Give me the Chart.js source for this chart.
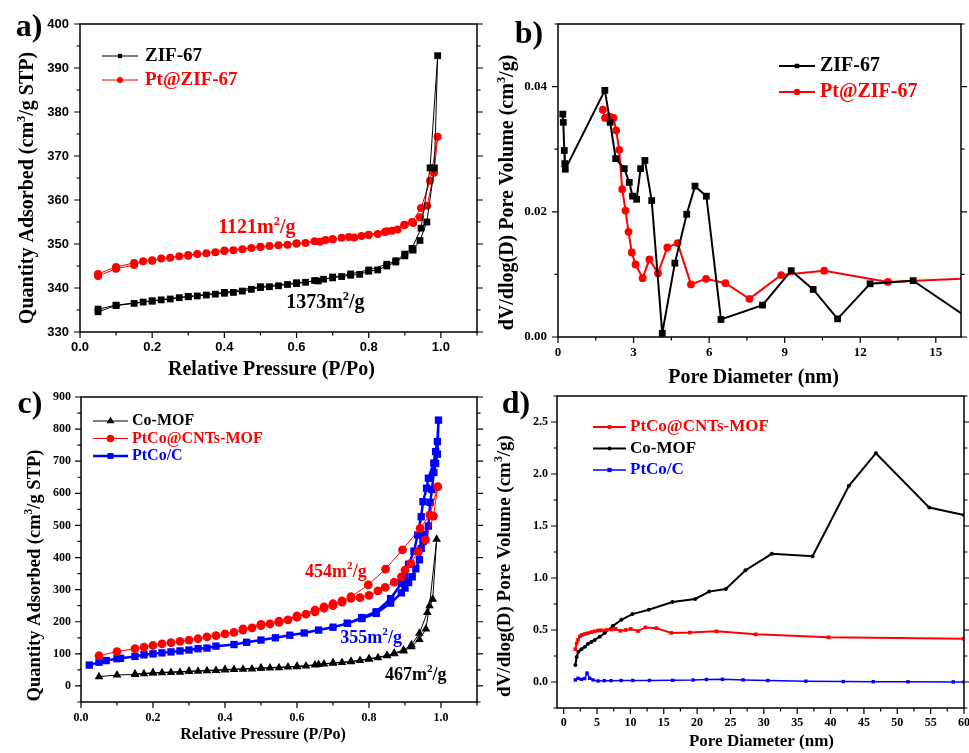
<!DOCTYPE html>
<html>
<head>
<meta charset="utf-8">
<title>Nitrogen sorption isotherms and pore size distributions</title>
<script src="https://cdn.jsdelivr.net/npm/chart.js@4.4.1/dist/chart.umd.min.js"></script>
<style>
  html, body { margin: 0; padding: 0; background: #fff; }
  body { width: 969px; height: 753px; position: relative; overflow: hidden; }
  canvas { position: absolute; }
</style>
</head>
<body>
<canvas id="panelA" width="484" height="388" style="left:0;top:0"></canvas>
<canvas id="panelB" width="485" height="388" style="left:484px;top:0"></canvas>
<canvas id="panelC" width="484" height="365" style="left:0;top:388px"></canvas>
<canvas id="panelD" width="485" height="365" style="left:484px;top:388px"></canvas>
<script>
// ---------- (a) N2 isotherms: ZIF-67 and Pt@ZIF-67 ----------
const zifAdsP = [0.05,0.1,0.15,0.175,0.2,0.225,0.25,0.275,0.3,0.325,0.35,0.375,0.4,0.425,0.45,0.475,0.5,0.525,0.55,0.575,0.6,0.625,0.65,0.675,0.7,0.725,0.75,0.775,0.8,0.825,0.85,0.875,0.9,0.923,0.942,0.961,0.982,0.991];
const zifAdsQ = [334.6,336.0,336.5,336.8,337.0,337.3,337.5,337.8,338.0,338.2,338.4,338.6,338.8,339.0,339.3,339.7,340.1,340.3,340.5,340.8,341.0,341.3,341.7,342.0,342.3,342.6,342.9,343.1,343.8,344.1,345.0,345.9,347.3,348.6,350.8,355.0,367.3,392.8];
const zifDesP = [0.970,0.945,0.92,0.9,0.875,0.85,0.8,0.75,0.7,0.66,0.6,0.5,0.4,0.3,0.2,0.1,0.05];
const zifDesQ = [367.3,353.6,349.0,347.7,346.2,345.4,344.1,343.2,342.5,341.6,341.2,340.3,339.0,338.1,337.1,336.1,335.2];

const ptZifAdsP = [0.05,0.1,0.15,0.175,0.2,0.225,0.25,0.275,0.3,0.325,0.35,0.375,0.4,0.425,0.45,0.475,0.5,0.525,0.55,0.575,0.6,0.625,0.65,0.665,0.68,0.7,0.725,0.745,0.76,0.78,0.8,0.825,0.845,0.865,0.88,0.898,0.923,0.942,0.962,0.981,0.991];
const ptZifAdsQ = [342.7,344.4,345.2,346.1,346.2,346.7,346.9,347.2,347.35,347.7,347.9,348.1,348.4,348.6,348.8,349.1,349.3,349.55,349.7,349.85,350.1,350.2,350.6,350.5,350.9,351.1,351.4,351.6,351.5,351.8,352.05,352.3,352.7,353.0,353.3,354.3,354.8,356.1,358.7,366.2,374.4];
const ptZifDesP = [0.970,0.945,0.92,0.9,0.85,0.8,0.7,0.6,0.5,0.4,0.3,0.2,0.15,0.1,0.05];
const ptZifDesQ = [364.4,358.2,355.0,354.4,352.9,352.1,351.1,350.1,349.4,348.5,347.5,346.3,345.7,344.8,343.2];

// ---------- (b) pore size distribution: ZIF-67 and Pt@ZIF-67 ----------
const zifPoreD = [0.19,0.21,0.25,0.27,0.29,1.86,2.07,2.29,2.63,2.83,2.96,3.12,3.28,3.45,3.72,4.14,4.64,5.11,5.44,5.89,6.47,8.12,9.26,10.13,11.10,12.39,14.10,16.0];
const zifPoreV = [0.0356,0.0343,0.0298,0.0277,0.0268,0.0394,0.0343,0.0285,0.0269,0.0247,0.0225,0.0220,0.0269,0.0282,0.0218,0.0006,0.0118,0.0196,0.0241,0.0225,0.0028,0.0051,0.0106,0.0076,0.0029,0.0085,0.0090,0.0038];
const ptZifPoreD = [1.78,1.87,2.04,2.20,2.31,2.43,2.55,2.68,2.80,2.93,3.08,3.36,3.63,3.97,4.34,4.75,5.28,5.88,6.65,7.60,8.86,10.57,13.10,16.0];
const ptZifPoreV = [0.0363,0.0350,0.0352,0.0350,0.0330,0.0299,0.0236,0.0202,0.0168,0.0135,0.0116,0.0094,0.0124,0.0102,0.0143,0.0150,0.0084,0.0093,0.0086,0.0061,0.0099,0.0106,0.0088,0.0093];

// ---------- (c) N2 isotherms: Co-MOF, PtCo@CNTs-MOF, PtCo/C ----------
const coAdsP = [0.05,0.1,0.15,0.175,0.2,0.225,0.25,0.275,0.3,0.325,0.35,0.375,0.4,0.425,0.45,0.475,0.5,0.525,0.55,0.575,0.6,0.625,0.65,0.675,0.7,0.725,0.75,0.775,0.8,0.825,0.85,0.87,0.896,0.918,0.94,0.958,0.968,0.988];
const coAdsQ = [29,34,36,38,40,41,42,43,45,46,47,48,50,51,52,53,55,56,57,59,60,62,65,68,71,73,75,79,83,88,94,100,109,122,145,177,250,457];
const coDesP = [0.977,0.962,0.94,0.918,0.896,0.87,0.85,0.8,0.75,0.7,0.66,0.6,0.5,0.4,0.3,0.2,0.15];
const coDesQ = [270,229,164,128,112,102,95,85,76,72,67,61,56,51,46,41,37];

const cntAdsP = [0.05,0.1,0.15,0.175,0.2,0.225,0.25,0.275,0.3,0.325,0.35,0.375,0.4,0.425,0.45,0.475,0.5,0.525,0.55,0.575,0.6,0.625,0.65,0.675,0.7,0.725,0.75,0.775,0.8,0.825,0.845,0.87,0.89,0.9,0.916,0.937,0.957,0.979,0.991];
const cntAdsQ = [94,107,116,121,126,131,135,139,143,147,153,157,162,167,174,181,188,193,198,206,214,224,231,242,250,261,273,275,282,296,307,323,340,361,382,418,455,529,621];
const cntDesP = [0.969,0.942,0.893,0.846,0.798,0.75,0.725,0.7,0.675,0.65,0.6,0.55,0.5,0.45];
const cntDesQ = [533,491,424,364,315,278,265,256,246,236,218,202,192,178];

const pcAdsP = [0.023,0.05,0.07,0.1,0.11,0.15,0.175,0.2,0.225,0.25,0.275,0.3,0.325,0.35,0.375,0.425,0.46,0.5,0.54,0.58,0.62,0.66,0.7,0.74,0.78,0.82,0.86,0.89,0.9,0.91,0.92,0.93,0.94,0.945,0.95,0.955,0.965,0.97,0.975,0.98,0.985,0.99,0.993];
const pcAdsQ = [65,74,79,85,86,92,97,100,103,106,109,112,116,118,124,129,136,143,150,158,165,174,183,195,210,226,258,290,305,322,340,365,393,428,450,472,498,572,612,665,693,722,828];
const pcDesP = [0.99,0.985,0.98,0.965,0.96,0.95,0.945,0.935,0.925,0.91,0.9,0.89,0.86,0.82,0.78,0.74];
const pcDesQ = [761,730,694,647,616,574,527,470,420,379,340,320,272,231,213,195];

// ---------- (d) pore size distribution: PtCo@CNTs-MOF, Co-MOF, PtCo/C ----------
const cntPoreD = [1.75,1.95,2.15,2.45,2.75,3.2,3.65,4.15,4.65,5.15,5.65,6.4,7.15,7.8,8.5,9.3,10.05,11.15,12.25,13.9,16.15,18.9,22.9,28.8,39.7,60];
const cntPoreV = [0.316,0.37,0.405,0.44,0.454,0.462,0.47,0.48,0.487,0.495,0.497,0.5,0.505,0.51,0.492,0.5,0.51,0.49,0.525,0.518,0.472,0.475,0.487,0.458,0.43,0.415];
const coPoreD = [1.75,1.95,2.2,2.65,3.2,3.65,4.15,4.65,5.4,6.15,7.4,8.65,10.3,12.75,16.3,19.7,21.8,24.3,27.25,31.2,37.3,42.75,46.8,54.8,60];
const coPoreV = [0.164,0.24,0.29,0.316,0.34,0.367,0.385,0.405,0.435,0.47,0.54,0.598,0.653,0.695,0.769,0.798,0.869,0.894,1.075,1.232,1.21,1.886,2.20,1.677,1.605];
const pcPoreD = [1.75,2.15,2.65,3.15,3.5,3.9,4.4,5.15,6.1,7.1,8.6,10.35,12.85,16.35,19.4,21.4,23.8,26.9,30.6,36.3,41.9,46.4,51.6,58.4,60];
const pcPoreV = [0.02,0.036,0.026,0.033,0.086,0.036,0.02,0.01,0.013,0.013,0.014,0.015,0.015,0.016,0.019,0.024,0.026,0.02,0.014,0.008,0.004,0.003,0.002,0.001,0.001];

// ---------- tick labels ----------
const isoXTicks = [0, 0.2, 0.4, 0.6, 0.8, 1.0];
const aYTicks = [330, 340, 350, 360, 370, 380, 390, 400];
const bXTicks = [0, 3, 6, 9, 12, 15];
const bYTicks = [0, 0.02, 0.04];
const cYTicks = [0, 100, 200, 300, 400, 500, 600, 700, 800, 900];
const dXTicks = [0, 5, 10, 15, 20, 25, 30, 35, 40, 45, 50, 55, 60];
const dYTicks = [0, 0.5, 1.0, 1.5, 2.0, 2.5];

// ---------- helpers ----------
const SERIF = '"Liberation Serif", "Times New Roman", serif';
const SANS = '"Liberation Sans", Arial, sans-serif';
const RED = '#ff0000', BLUE = '#0000ff', BLACK = '#000000';

const pairs = (xs, ys) => xs.map((x, i) => ({ x, y: ys[i] }));
// adsorption branch followed by desorption branch, drawn as one closed-ish loop
const loop = (ap, aq, dp, dq) => pairs(ap, aq).concat(pairs(dp, dq));

function drawRich(ctx, parts, x, y, o) {
  const size = o.size, supSize = size * 0.62, fam = o.family || SERIF;
  const fN = `bold ${size}px ${fam}`, fS = `bold ${supSize}px ${fam}`;
  const segs = parts.map(p => Array.isArray(p) ? { t: p[0], s: true } : { t: p, s: false });
  let w = 0;
  segs.forEach(s => { ctx.font = s.s ? fS : fN; s.w = ctx.measureText(s.t).width; w += s.w; });
  ctx.save();
  ctx.translate(x, y);
  if (o.rotate) ctx.rotate(-Math.PI / 2);
  ctx.fillStyle = o.color || BLACK;
  ctx.textBaseline = 'middle';
  ctx.textAlign = 'left';
  let cx = o.align === 'left' ? 0 : -w / 2;
  segs.forEach(s => {
    ctx.font = s.s ? fS : fN;
    ctx.fillText(s.t, cx, s.s ? -size * 0.33 : 0);
    cx += s.w;
  });
  ctx.restore();
}

function drawMarker(ctx, style, x, y, r, color) {
  ctx.fillStyle = color;
  ctx.beginPath();
  if (style === 'rect') {
    const s = r * Math.SQRT1_2;
    ctx.rect(x - s, y - s, 2 * s, 2 * s);
  } else if (style === 'triangle') {
    for (let k = 0; k < 3; k++) {
      const a = k * 2 * Math.PI / 3;
      const px = x + Math.sin(a) * r, py = y - Math.cos(a) * r;
      if (k === 0) ctx.moveTo(px, py); else ctx.lineTo(px, py);
    }
    ctx.closePath();
  } else {
    ctx.arc(x, y, r, 0, Math.PI * 2);
  }
  ctx.fill();
}

function eachTick(min, max, minor, major, fn) {
  const eps = 1e-9;
  const start = Math.ceil((min - eps) / minor);
  for (let k = start; k * minor <= max + eps; k++) {
    const v = k * minor;
    const q = v / major;
    fn(v, Math.abs(q - Math.round(q)) < 1e-6);
  }
}

// Box frame, minor/major ticks, axis titles, legend, notes and panel letter
const framePlugin = {
  id: 'frame',
  afterDraw(chart, args, o) {
    const { ctx, chartArea: A, scales: { x, y } } = chart;
    ctx.save();
    ctx.strokeStyle = BLACK;
    ctx.lineWidth = 1.5;
    ctx.strokeRect(A.left, A.top, A.right - A.left, A.bottom - A.top);
    ctx.lineWidth = 1.2;
    ctx.beginPath();
    eachTick(x.min, x.max, o.xMinor, o.xMajor, (v, major) => {
      const px = x.getPixelForValue(v), L = major ? 6 : 3.5;
      ctx.moveTo(px, A.bottom); ctx.lineTo(px, A.bottom + L);
    });
    eachTick(y.min, y.max, o.yMinor, o.yMajor, (v, major) => {
      const py = y.getPixelForValue(v), L = major ? 6 : 3.5;
      ctx.moveTo(A.left, py); ctx.lineTo(A.left - L, py);
      ctx.moveTo(A.right, py); ctx.lineTo(A.right + L, py);
    });
    ctx.stroke();

    const cxA = (A.left + A.right) / 2, cyA = (A.top + A.bottom) / 2;
    const xt = o.xTitle, yt = o.yTitle;
    drawRich(ctx, xt.parts, cxA + (xt.dx || 0), A.bottom + xt.dy, { size: xt.size });
    drawRich(ctx, yt.parts, A.left + yt.dx, cyA + (yt.dy || 0), { size: yt.size, rotate: true });

    const lg = o.legend;
    chart.data.datasets.forEach((ds, i) => {
      const ly = A.top + lg.y + i * lg.dy;
      ctx.strokeStyle = ds.borderColor;
      ctx.lineWidth = ds.borderWidth;
      ctx.beginPath();
      ctx.moveTo(A.left + lg.x0, ly); ctx.lineTo(A.left + lg.x1, ly);
      ctx.stroke();
      drawMarker(ctx, ds.pointStyle, A.left + (lg.x0 + lg.x1) / 2, ly, lg.mr[i], ds.borderColor);
      drawRich(ctx, [ds.label], A.left + lg.tx, ly, { size: lg.size, color: ds.borderColor, align: 'left' });
    });

    (o.notes || []).forEach(n => {
      drawRich(ctx, n.parts, x.getPixelForValue(n.x), y.getPixelForValue(n.y), { size: n.size, color: n.color });
    });

    ctx.font = `bold ${o.tag.size}px ${SERIF}`;
    ctx.fillStyle = BLACK;
    ctx.textAlign = 'center';
    ctx.textBaseline = 'middle';
    ctx.fillText(o.tag.text, o.tag.x, o.tag.y);
    ctx.restore();
  }
};
Chart.register(framePlugin);

function axis(a, horizontal) {
  return {
    type: 'linear', min: a.min, max: a.max,
    afterBuildTicks: s => { s.ticks = a.ticks.map(v => ({ value: v })); },
    afterFit: s => {
      if (horizontal) s.height = a.size; else s.width = a.size;
      s.paddingLeft = s.paddingRight = s.paddingTop = s.paddingBottom = 0;
    },
    grid: { display: false, drawTicks: false },
    border: { display: false },
    ticks: {
      color: BLACK, padding: a.pad, autoSkip: false, maxRotation: 0,
      font: { family: a.family, size: a.fs, weight: 'bold' },
      callback: v => Number(v).toFixed(a.dec)
    }
  };
}

function series(label, data, color, style, r, lw, xEdge) {
  return {
    label, data, showLine: true, tension: 0,
    borderColor: color, backgroundColor: color,
    pointBackgroundColor: color, pointBorderColor: color, pointBorderWidth: 0,
    pointStyle: style, borderWidth: lw,
    pointRadius: xEdge === undefined ? r : (c => (c.raw && c.raw.x >= xEdge) ? 0 : r),
    pointHoverRadius: r
  };
}

function makeChart(id, cfg) {
  return new Chart(document.getElementById(id), {
    type: 'scatter',
    data: { datasets: cfg.datasets },
    options: {
      responsive: false, animation: false, events: [],
      layout: { padding: cfg.pad },
      plugins: { legend: { display: false }, tooltip: { enabled: false }, frame: cfg.frame },
      scales: { x: axis(cfg.x, true), y: axis(cfg.y, false) }
    }
  });
}

// ---------- (a) ----------
makeChart('panelA', {
  pad: { left: 0, top: 24, right: 7, bottom: 0 },
  x: { min: 0, max: 1.1, ticks: isoXTicks, size: 56, pad: 8, family: SANS, fs: 13, dec: 1 },
  y: { min: 330, max: 400, ticks: aYTicks, size: 80, pad: 11, family: SANS, fs: 13, dec: 0 },
  datasets: [
    series('ZIF-67', loop(zifAdsP, zifAdsQ, zifDesP, zifDesQ), BLACK, 'rect', 4.8, 1),
    series('Pt@ZIF-67', loop(ptZifAdsP, ptZifAdsQ, ptZifDesP, ptZifDesQ), RED, 'circle', 4, 1)
  ],
  frame: {
    xMajor: 0.2, xMinor: 0.1, yMajor: 10, yMinor: 5,
    xTitle: { parts: ['Relative Pressure (P/Po)'], size: 20, dy: 38, dx: -7 },
    yTitle: { parts: ['Quantity Adsorbed (cm', ['3'], '/g STP)'], size: 20, dx: -52, dy: 10 },
    legend: { x0: 22, x1: 58, tx: 65, y: 32, dy: 24, size: 19, mr: [3, 3] },
    notes: [
      { parts: ['1121m', ['2'], '/g'], x: 0.49, y: 353.6, size: 20, color: RED },
      { parts: ['1373m', ['2'], '/g'], x: 0.68, y: 336.6, size: 20, color: BLACK }
    ],
    tag: { text: 'a)', x: 29, y: 28, size: 32 }
  }
});

// ---------- (b) ----------
makeChart('panelB', {
  pad: { left: 0, top: 24, right: 8, bottom: 0 },
  x: { min: 0, max: 16, ticks: bXTicks, size: 51, pad: 8, family: SERIF, fs: 13, dec: 0 },
  y: { min: 0, max: 0.05, ticks: bYTicks, size: 74, pad: 11, family: SERIF, fs: 13, dec: 2 },
  datasets: [
    series('ZIF-67', pairs(zifPoreD, zifPoreV), BLACK, 'rect', 4.8, 2, 16),
    series('Pt@ZIF-67', pairs(ptZifPoreD, ptZifPoreV), RED, 'circle', 3.9, 2, 16)
  ],
  frame: {
    xMajor: 3, xMinor: 1.5, yMajor: 0.02, yMinor: 0.01,
    xTitle: { parts: ['Pore Diameter (nm)'], size: 20, dy: 41, dx: -6 },
    yTitle: { parts: ['dV/dlog(D) Pore Volume (cm', ['3'], '/g)'], size: 20, dx: -50, dy: 12 },
    legend: { x0: 221, x1: 257, tx: 262, y: 42, dy: 26, size: 20, mr: [3.2, 3.2] },
    notes: [],
    tag: { text: 'b)', x: 45, y: 35, size: 32 }
  }
});

// ---------- (c) ----------
makeChart('panelC', {
  pad: { left: 0, top: 9, right: 7, bottom: 0 },
  x: { min: 0, max: 1.1, ticks: isoXTicks, size: 51, pad: 8.5, family: SERIF, fs: 12, dec: 1 },
  y: { min: -50, max: 900, ticks: cYTicks, size: 81, pad: 10, family: SERIF, fs: 12, dec: 0 },
  datasets: [
    series('Co-MOF', loop(coAdsP, coAdsQ, coDesP, coDesQ), BLACK, 'triangle', 5, 1),
    series('PtCo@CNTs-MOF', loop(cntAdsP, cntAdsQ, cntDesP, cntDesQ), RED, 'circle', 4.4, 1),
    series('PtCo/C', loop(pcAdsP, pcAdsQ, pcDesP, pcDesQ), BLUE, 'rect', 5.2, 2.5)
  ],
  frame: {
    xMajor: 0.2, xMinor: 0.1, yMajor: 100, yMinor: 50,
    xTitle: { parts: ['Relative Pressure (P/Po)'], size: 16, dy: 33, dx: -16 },
    yTitle: { parts: ['Quantity Adsorbed (cm', ['3'], '/g STP)'], size: 18.5, dx: -46, dy: 26 },
    legend: { x0: 12, x1: 47, tx: 51, y: 24, dy: 17.5, size: 16, mr: [4.5, 3.8, 4.2] },
    notes: [
      { parts: ['454m', ['2'], '/g'], x: 0.708, y: 355, size: 18, color: RED },
      { parts: ['355m', ['2'], '/g'], x: 0.806, y: 149, size: 18, color: BLUE },
      { parts: ['467m', ['2'], '/g'], x: 0.93, y: 34, size: 18, color: BLACK }
    ],
    tag: { text: 'c)', x: 30, y: 17, size: 32 }
  }
});

// ---------- (d) ----------
makeChart('panelD', {
  pad: { left: 0, top: 8, right: 5, bottom: 0 },
  x: { min: -1, max: 60, ticks: dXTicks, size: 45, pad: 7.8, family: SERIF, fs: 12, dec: 0 },
  y: { min: -0.25, max: 2.75, ticks: dYTicks, size: 73, pad: 9, family: SERIF, fs: 12, dec: 1 },
  datasets: [
    series('PtCo@CNTs-MOF', pairs(cntPoreD, cntPoreV), RED, 'rect', 2.6, 2),
    series('Co-MOF', pairs(coPoreD, coPoreV), BLACK, 'circle', 2, 2),
    series('PtCo/C', pairs(pcPoreD, pcPoreV), BLUE, 'rect', 2.4, 1.5)
  ],
  frame: {
    xMajor: 5, xMinor: 2.5, yMajor: 0.5, yMinor: 0.25,
    xTitle: { parts: ['Pore Diameter (nm)'], size: 17, dy: 34, dx: 1 },
    yTitle: { parts: ['dV/dlog(D) Pore Volume (cm', ['3'], '/g)'], size: 19, dx: -52, dy: 14 },
    legend: { x0: 36, x1: 69, tx: 73, y: 31, dy: 21.5, size: 17, mr: [2.6, 2, 3] },
    notes: [],
    tag: { text: 'd)', x: 32, y: 17, size: 32 }
  }
});
</script>
</body>
</html>
